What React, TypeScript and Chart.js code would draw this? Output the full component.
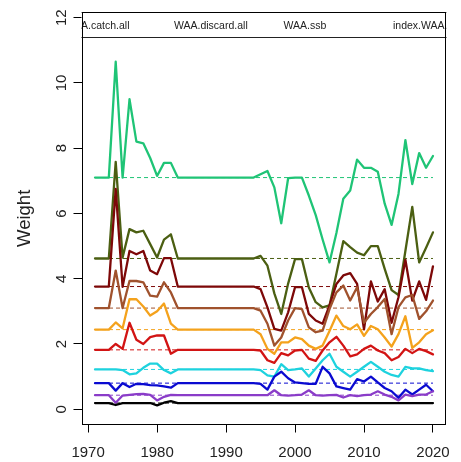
import React, { useEffect, useRef } from "react";
import { Chart, registerables } from "chart.js";

Chart.register(...registerables);

// Years covered by the weight-at-age series
const firstYear = 1971;
const lastYear = 2020;
const years: number[] = [];
for (let y = firstYear; y <= lastYear; y++) years.push(y);

const xTickYears = [1970, 1980, 1990, 2000, 2010, 2020];
const yTickValues = [0, 2, 4, 6, 8, 10, 12];
const yLimTop = 11.7;
const yAxisTitle = "Weight";
const legendLabels = ["WAA.catch.all", "WAA.discard.all", "WAA.ssb", "index.WAA.all"];

// Weight at age, 1971..2020 (one value per year)
const age1 = [
  0.19, 0.19, 0.19, 0.13, 0.19, 0.19, 0.19, 0.19, 0.19, 0.12, 0.2, 0.25, 0.19,
  0.19, 0.19, 0.19, 0.19, 0.19, 0.19, 0.19, 0.19, 0.19, 0.19, 0.19,
  0.19, 0.19, 0.19, 0.19, 0.19, 0.19, 0.19, 0.19, 0.19, 0.19, 0.19, 0.19, 0.19,
  0.19, 0.19, 0.19, 0.19, 0.19, 0.19, 0.19, 0.19, 0.19, 0.19, 0.19, 0.19, 0.19,
];
const age2 = [
  0.43, 0.43, 0.43, 0.2, 0.42, 0.44, 0.46, 0.47, 0.44, 0.27, 0.38, 0.44, 0.43,
  0.43, 0.43, 0.43, 0.43, 0.43, 0.43, 0.43, 0.43, 0.43, 0.43, 0.43,
  0.43, 0.43, 0.58, 0.43, 0.42, 0.43, 0.45, 0.58, 0.43, 0.42, 0.43, 0.44, 0.36,
  0.43, 0.4, 0.43, 0.45, 0.55, 0.45, 0.38, 0.27, 0.45, 0.4, 0.45, 0.45, 0.55,
];
const age3 = [
  0.8, 0.8, 0.8, 0.57, 0.8, 0.68, 0.78, 0.77, 0.74, 0.73, 0.7, 0.66, 0.8,
  0.8, 0.8, 0.8, 0.8, 0.8, 0.8, 0.8, 0.8, 0.8, 0.8, 0.8,
  0.78, 0.6, 1.0, 1.15, 0.95, 0.82, 0.8, 0.78, 0.78, 1.3, 1.1, 0.7, 0.65,
  0.6, 0.92, 0.85, 1.0, 0.82, 0.65, 0.55, 0.35, 0.6, 0.45, 0.6, 0.75, 0.55,
];
const age4 = [
  1.22, 1.22, 1.22, 1.22, 1.2, 1.07, 1.1, 1.27, 1.4, 1.4, 1.2, 1.1, 1.22,
  1.22, 1.22, 1.22, 1.22, 1.22, 1.22, 1.22, 1.22, 1.22, 1.22, 1.22,
  1.2, 1.04, 1.0, 1.38, 1.2, 1.22, 1.25, 1.0, 1.25, 1.5, 1.7, 1.3, 1.15,
  1.0, 1.15, 1.3, 1.45, 1.3, 1.15, 1.05, 1.0, 1.3, 1.25, 1.25, 1.2, 1.17,
];
const age5 = [
  1.82, 1.82, 1.82, 2.0, 1.85, 2.65, 2.13, 2.0, 2.21, 2.26, 2.26, 1.7, 1.82,
  1.82, 1.82, 1.82, 1.82, 1.82, 1.82, 1.82, 1.82, 1.82, 1.82, 1.82,
  1.8, 1.5, 1.42, 1.72, 1.65, 1.8, 1.82, 1.55, 1.48, 1.8, 2.05, 2.22, 1.95,
  1.62, 1.68, 1.85, 1.95, 1.8, 1.72, 1.5, 1.6, 1.85, 1.72, 1.85, 1.78, 1.68,
];
const age6 = [
  2.44, 2.44, 2.44, 2.66, 2.48, 3.37, 3.37, 3.15, 2.87, 3.0, 3.24, 2.62, 2.44,
  2.44, 2.44, 2.44, 2.44, 2.44, 2.44, 2.44, 2.44, 2.44, 2.44, 2.44,
  2.3, 1.85, 1.7, 2.05, 2.05, 2.2, 2.15, 1.95, 1.85, 1.95, 2.4, 2.87, 2.55,
  2.45, 2.6, 2.25, 2.55, 2.45, 2.2, 1.92, 2.3, 2.85, 1.88, 2.05, 2.3, 2.42,
];
const age7 = [
  3.1, 3.1, 3.1, 4.25, 3.1, 3.93, 3.93, 3.89, 3.48, 3.45, 3.89, 3.58, 3.1,
  3.1, 3.1, 3.1, 3.1, 3.1, 3.1, 3.1, 3.1, 3.1, 3.1, 3.1,
  3.02, 2.62, 1.95, 2.2, 2.72, 3.1, 3.07, 2.51, 2.36, 2.41, 3.07, 3.58, 3.79,
  3.33, 3.74, 2.65, 2.92, 3.13, 3.38, 2.3, 3.13, 3.43, 3.5, 2.77, 3.0, 3.33,
];
const age8 = [
  3.76, 3.76, 3.76, 6.75, 3.75, 4.85, 4.75, 4.85, 4.25, 4.14, 4.63, 4.63, 3.76,
  3.76, 3.76, 3.76, 3.76, 3.76, 3.76, 3.76, 3.76, 3.76, 3.76, 3.76,
  3.68, 3.12, 2.46, 2.41, 2.97, 3.74, 3.74, 2.92, 2.72, 2.62, 3.18, 3.84, 4.1,
  4.17, 3.84, 2.45, 3.92, 3.3, 3.68, 2.65, 3.43, 4.58, 3.33, 3.92, 3.35, 4.38,
];
const age9 = [
  4.62, 4.62, 4.62, 7.58, 4.65, 5.52, 5.42, 5.47, 5.06, 4.65, 5.2, 5.36, 4.62,
  4.62, 4.62, 4.62, 4.62, 4.62, 4.62, 4.62, 4.62, 4.62, 4.62, 4.62,
  4.7, 4.4, 3.55, 2.92, 3.85, 4.6, 4.6, 3.73, 3.28, 3.12, 3.18, 4.15, 5.15,
  4.97, 4.8, 4.72, 5.0, 5.0, 4.3, 3.65, 3.5, 4.85, 6.2, 4.5, 4.95, 5.42,
];
const age10 = [
  7.1, 7.1, 7.1, 10.65, 7.1, 9.5, 8.2, 8.15, 7.7, 7.15, 7.55, 7.55, 7.1,
  7.1, 7.1, 7.1, 7.1, 7.1, 7.1, 7.1, 7.1, 7.1, 7.1, 7.1,
  7.2, 7.3, 6.8, 5.7, 7.08, 7.1, 7.1, 6.55, 5.95, 5.2, 4.5, 5.4, 6.45,
  6.7, 7.65, 7.4, 7.4, 7.28, 6.3, 5.65, 6.6, 8.25, 6.9, 7.85, 7.4, 7.76,
];

// Reference (dashed) level for each age
const ageRefs = [0.19, 0.43, 0.8, 1.22, 1.82, 2.44, 3.1, 3.76, 4.62, 7.1];

const ageSeries = [age1, age2, age3, age4, age5, age6, age7, age8, age9, age10];
const ageColors = [
  "#000000", "#8a3cc8", "#0a0ad0", "#1ed2de", "#d21414",
  "#f4a21c", "#a0522d", "#7d0808", "#4b5f12", "#1fc476",
];

const FONT = "'Liberation Sans', Arial, sans-serif";

const boxAndLegend = {
  id: "boxAndLegend",
  afterDatasetsDraw(chart: any) {
    const { ctx, chartArea: a } = chart;
    const left = Math.round(a.left) + 0.5;
    const right = Math.round(a.right) - 0.5;
    const top = Math.round(a.top) + 0.5;
    const bottom = Math.round(a.bottom) - 0.5;

    // legend strip along the top, clipped to the plot region
    ctx.save();
    ctx.beginPath();
    ctx.rect(a.left, a.top, a.right - a.left, a.bottom - a.top);
    ctx.clip();
    const h = 25;
    ctx.fillStyle = "#ffffff";
    ctx.fillRect(left - 60, top, right - left + 120, h);
    ctx.strokeStyle = "#222";
    ctx.lineWidth = 1;
    ctx.strokeRect(left - 60, top, right - left + 120, h);
    ctx.fillStyle = "#222";
    ctx.font = `10.5px ${FONT}`;
    ctx.textAlign = "left";
    ctx.textBaseline = "middle";
    legendLabels.forEach((label, i) => {
      ctx.fillText(label, a.left - 17 + i * 109.5, top + h / 2 + 1);
    });
    ctx.restore();

    // plot box
    ctx.save();
    ctx.strokeStyle = "#000";
    ctx.lineWidth = 1;
    ctx.strokeRect(left, top, right - left, bottom - top);
    ctx.restore();
  },
};

export default function App() {
  const canvasRef = useRef<HTMLCanvasElement | null>(null);

  useEffect(() => {
    const canvas = canvasRef.current;
    if (!canvas) return;

    const lineSets = ageSeries.map((vals, i) => ({
      data: years.map((x, j) => ({ x, y: vals[j] })),
      borderColor: ageColors[i],
      borderWidth: 2.3,
      pointRadius: 0,
      tension: 0,
      fill: false,
      borderJoinStyle: "round" as const,
      borderCapStyle: "round" as const,
    }));
    const refSets = ageRefs.map((v, i) => ({
      data: [
        { x: firstYear, y: v },
        { x: lastYear, y: v },
      ],
      borderColor: ageColors[i],
      borderWidth: 1,
      borderDash: [4, 3],
      pointRadius: 0,
      fill: false,
    }));

    const yPad = yLimTop * 0.04;
    const xPad = (lastYear - firstYear) * 0.04;

    const chart = new Chart(canvas, {
      type: "line",
      data: { datasets: [...lineSets, ...refSets] as any },
      plugins: [boxAndLegend],
      options: {
        animation: false,
        responsive: false,
        maintainAspectRatio: false,
        events: [],
        layout: { padding: { top: 11, right: 9.3, left: 0, bottom: 0 } },
        plugins: {
          legend: { display: false },
          tooltip: { enabled: false },
        },
        scales: {
          x: {
            type: "linear",
            min: firstYear - xPad,
            max: lastYear + xPad,
            afterBuildTicks: (scale: any) => {
              scale.ticks = xTickYears.map((value) => ({ value }));
            },
            afterFit: (scale: any) => {
              scale.height = 37.5;
            },
            border: { display: false },
            grid: {
              display: true,
              drawOnChartArea: false,
              drawTicks: true,
              tickLength: 8,
              tickColor: "#000",
              color: "#000",
            },
            ticks: {
              autoSkip: false,
              maxRotation: 0,
              minRotation: 0,
              padding: 11,
              color: "#222",
              font: { family: FONT, size: 15 },
              callback: (v: any) => String(v),
            },
          },
          y: {
            type: "linear",
            min: -yPad,
            max: yLimTop + yPad,
            afterBuildTicks: (scale: any) => {
              scale.ticks = yTickValues.map((value) => ({ value }));
            },
            afterFit: (scale: any) => {
              scale.width = 81.5;
            },
            border: { display: false },
            grid: {
              display: true,
              drawOnChartArea: false,
              drawTicks: true,
              tickLength: 8,
              tickColor: "#000",
              color: "#000",
            },
            ticks: {
              autoSkip: false,
              minRotation: 90,
              maxRotation: 90,
              crossAlign: "center",
              padding: 3.2,
              color: "#222",
              font: { family: FONT, size: 15 },
              callback: (v: any) => String(v),
            },
            title: {
              display: true,
              text: yAxisTitle,
              color: "#222",
              font: { family: FONT, size: 18.5 },
              padding: { top: 14, bottom: 0 },
            },
          },
        },
      } as any,
    });

    return () => chart.destroy();
  }, []);

  return (
    <div
      style={{
        position: "absolute",
        left: 0,
        top: 0,
        width: 461,
        height: 462,
        background: "#fff",
      }}
    >
      <canvas ref={canvasRef} width={461} height={462} />
    </div>
  );
}
